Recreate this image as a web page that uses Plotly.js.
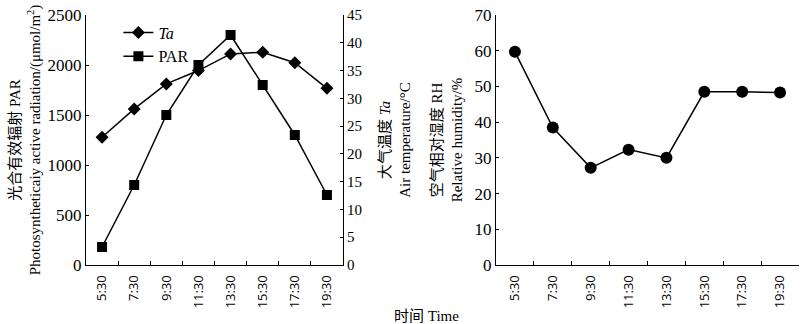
<!DOCTYPE html>
<html>
<head>
<meta charset="utf-8">
<script src="https://cdn.plot.ly/plotly-3.0.1.min.js"></script>
<style>html,body{margin:0;padding:0;background:#fff;}#chart{width:800px;height:324px;}</style>
</head>
<body>
<div id="chart"></div>
<script>
const times = ["5:30","7:30","9:30","11:30","13:30","15:30","17:30","19:30"];
const parValues = [180, 800, 1500, 2000, 2300, 1800, 1300, 700];
const taValues = [23.0, 28.1, 32.6, 35.0, 38.0, 38.3, 36.4, 31.8];
const rhValues = [59.7, 38.5, 27.2, 32.3, 30.0, 48.5, 48.5, 48.3];

const SERIF = "Liberation Serif, Times New Roman, Noto Sans CJK SC, serif";
const SANS = "Open Sans, Noto Sans, sans-serif";

const traces = [
  {x: times, y: taValues, name: "<i>Ta</i>", type: "scatter", mode: "lines+markers",
   xaxis: "x", yaxis: "y2",
   line: {color: "#000", width: 1.5}, marker: {symbol: "diamond", size: 10, color: "#000"}},
  {x: times, y: parValues, name: "PAR", type: "scatter", mode: "lines+markers",
   xaxis: "x", yaxis: "y",
   line: {color: "#000", width: 1.5}, marker: {symbol: "square", size: 10, color: "#000"}},
  {x: times, y: rhValues, name: "RH", type: "scatter", mode: "lines+markers",
   xaxis: "x2", yaxis: "y3", showlegend: false,
   line: {color: "#000", width: 1.5}, marker: {symbol: "circle", size: 12, color: "#000"}}
];

const xCommon = {
  type: "category", range: [-0.5, 7.5], showline: true, linecolor: "#000", linewidth: 1,
  ticks: "inside", tickson: "boundaries", ticklen: 4, tickcolor: "#000",
  tickangle: -90, tickfont: {family: SANS, size: 13, color: "#000"}, ticklabelstandoff: 4,
  showgrid: false, zeroline: false, fixedrange: true
};

const layout = {
  width: 800, height: 324,
  margin: {l: 0, r: 0, t: 15, b: 59},
  paper_bgcolor: "#fff", plot_bgcolor: "#fff",
  font: {family: SERIF, color: "#000"},
  showlegend: true,
  legend: {x: 0.148, y: 0.998, xanchor: "left", yanchor: "top",
           font: {family: SERIF, size: 16, color: "#000"}, bgcolor: "rgba(0,0,0,0)",
           tracegroupgap: 0},
  xaxis: Object.assign({}, xCommon, {domain: [86/800, 343/800], anchor: "y"}),
  xaxis2: Object.assign({}, xCommon, {domain: [496/800, 799/800], anchor: "y3"}),
  yaxis: {
    range: [0, 2500], dtick: 500, anchor: "x", showline: true, linecolor: "#000",
    ticks: "inside", ticklen: 3, tickcolor: "#000", showgrid: false, zeroline: false,
    tickfont: {family: SERIF, size: 17, color: "#000"},
    title: {text: "光合有效辐射 PAR<br>Photosyntheticaiy active radiation/(μmol/m<sup>2</sup>)",
            font: {family: SERIF, size: 15, color: "#000"}, standoff: 3}
  },
  yaxis2: {
    range: [0, 45], dtick: 5, anchor: "x", overlaying: "y", side: "right",
    showline: true, linecolor: "#000", ticks: "inside", ticklen: 3, tickcolor: "#000",
    showgrid: false, zeroline: false,
    tickfont: {family: SERIF, size: 15, color: "#000"},
    title: {text: "大气温度 <i>Ta</i><br>Air temperature/°C",
            font: {family: SERIF, size: 15, color: "#000"}, standoff: 18}
  },
  yaxis3: {
    range: [0, 70], dtick: 10, anchor: "x2", domain: [0, 1],
    showline: true, linecolor: "#000", ticks: "inside", ticklen: 3, tickcolor: "#000",
    showgrid: false, zeroline: false,
    tickfont: {family: SERIF, size: 17, color: "#000"},
    title: {text: "空气相对湿度 RH<br>Relative humidity/%",
            font: {family: SERIF, size: 15, color: "#000"}, standoff: 8}
  },
  annotations: [
    {text: "时间 Time", xref: "paper", yref: "paper", x: 427/800, y: -51/250,
     xanchor: "center", yanchor: "middle", showarrow: false,
     font: {family: SERIF, size: 15, color: "#000"}}
  ]
};

Plotly.newPlot("chart", traces, layout, {displayModeBar: false, staticPlot: true});
</script>
</body>
</html>
